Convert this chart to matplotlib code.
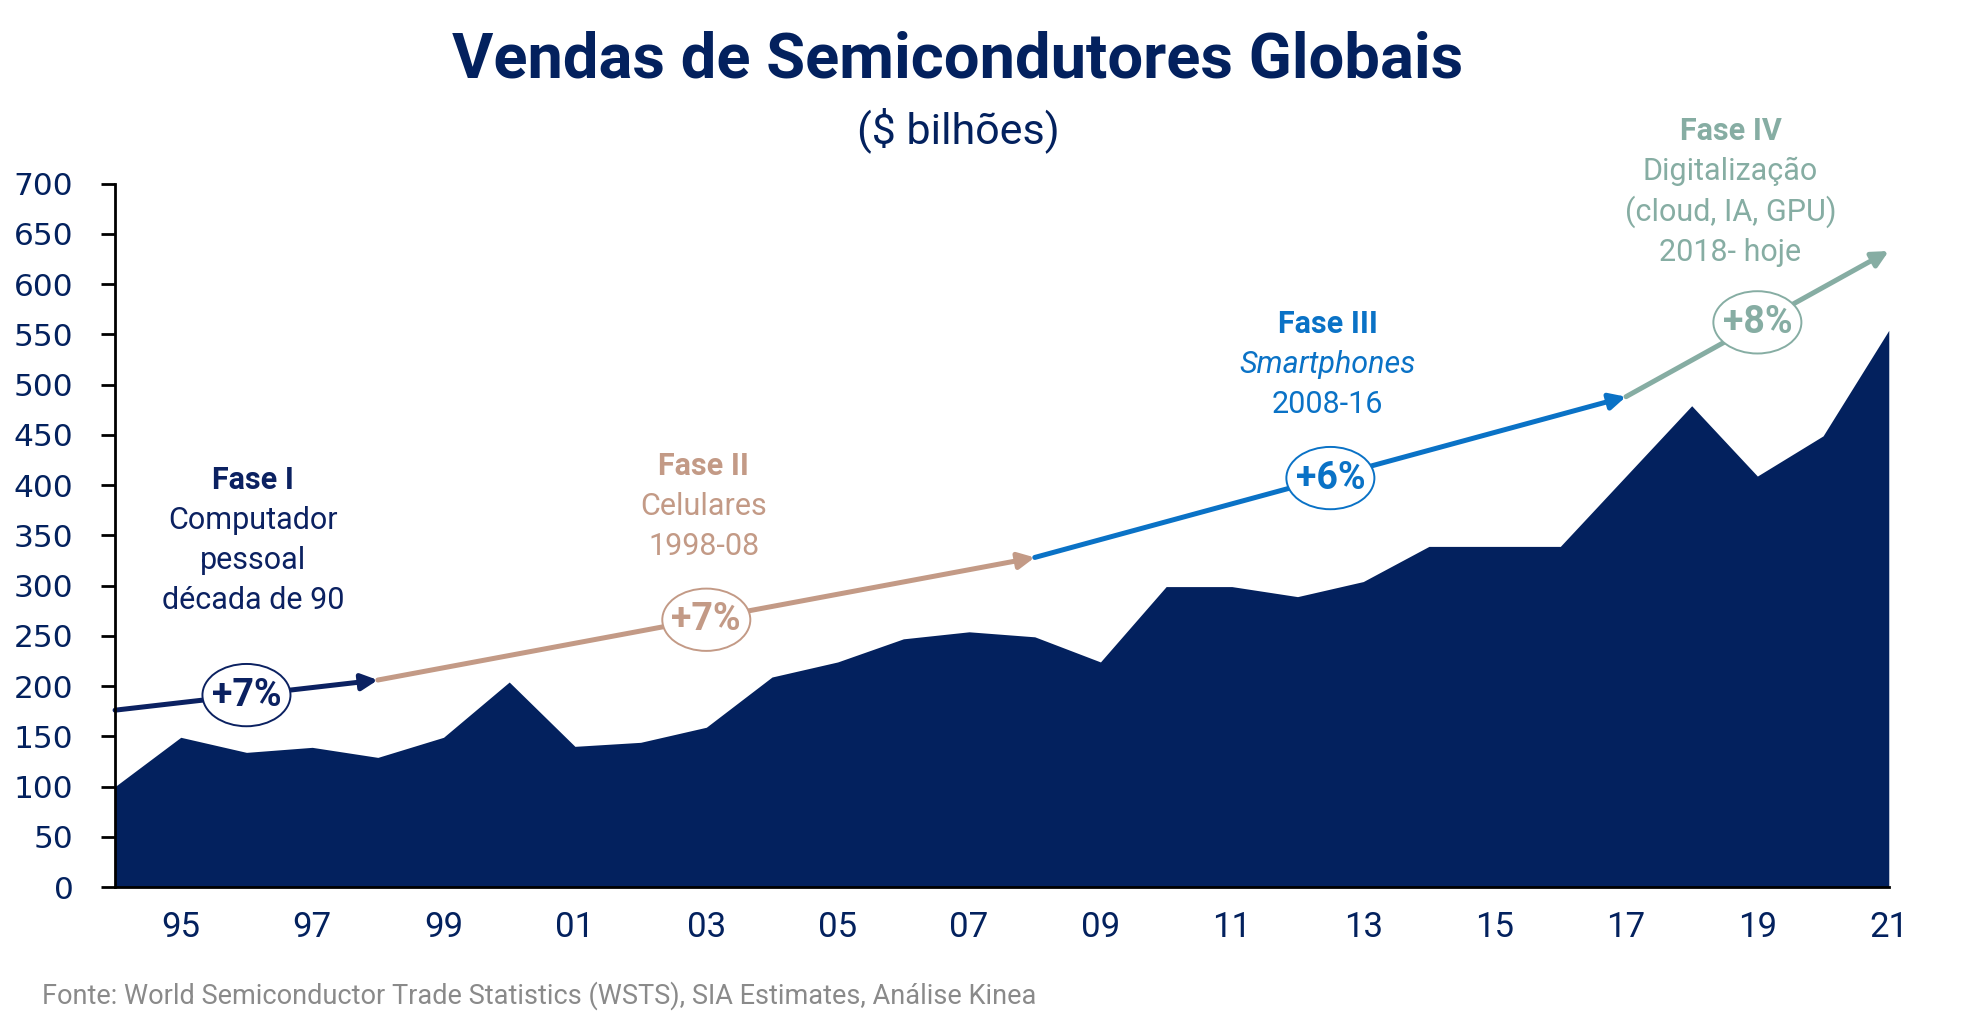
import matplotlib
matplotlib.use("Agg")
import matplotlib.pyplot as plt
from matplotlib.patches import Ellipse

years = list(range(1994, 2022))
sales = [100, 149, 134, 139, 129, 149, 204, 140, 144, 159, 209, 224, 247, 254,
         249, 224, 299, 299, 289, 304, 339, 339, 339, 409, 479, 409, 449, 554]
xtick_years = list(range(1995, 2022, 2))
xtick_labels = [f"{y % 100:02d}" for y in xtick_years]
yticks = list(range(0, 701, 50))

# phases: arrow start/end, growth label, ellipse center, text lines
phase_arrows = [((1994, 176), (1998, 206)),
                ((1998, 206), (2008, 328)),
                ((2008, 328), (2017, 488)),
                ((2017, 488), (2021, 633))]
phase_growth = ["+7%", "+7%", "+6%", "+8%"]
phase_badge = [(1996.0, 191), (2003.0, 266), (2012.5, 407), (2019.0, 562)]
phase_title = ["Fase I", "Fase II", "Fase III", "Fase IV"]
phase_lines = [["Computador", "pessoal", "década de 90"],
               ["Celulares", "1998-08"],
               ["Smartphones", "2008-16"],
               ["Digitalização", "(cloud, IA, GPU)", "2018- hoje"]]
phase_text_anchor = [(1996.1, 405), (2002.96, 419), (2012.46, 560), (2018.59, 752)]
phase_colors = ["#0b2161", "#c39a86", "#0a72c6", "#86ada3"]

navy = "#03215e"
FONT = "Roboto"

fig = plt.figure(figsize=(19.84, 10.32), dpi=100)
ax = fig.add_axes([0.058, 0.1405, 0.894, 0.6815])

ax.fill_between(years, sales, 0, color=navy, lw=0, zorder=1)
ax.set_xlim(1994, 2021)
ax.set_ylim(0, 700)

for s in ["top", "right"]:
    ax.spines[s].set_visible(False)
for s in ["left", "bottom"]:
    ax.spines[s].set_color("black")
    ax.spines[s].set_linewidth(2)
    ax.spines[s].set_zorder(5)

ax.set_yticks(yticks)
ax.set_yticklabels([str(v) for v in yticks], fontsize=22.5, color=navy,
                   family="DejaVu Sans")
ax.tick_params(axis="y", length=10, width=2, pad=20)
ax.set_xticks(xtick_years)
ax.set_xticklabels(xtick_labels, fontsize=25, color=navy, family=FONT)
ax.tick_params(axis="x", length=0, pad=17)

for i in range(4):
    (x0, y0), (x1, y1) = phase_arrows[i]
    c = phase_colors[i]
    ax.annotate("", xy=(x1, y1), xytext=(x0, y0),
                arrowprops=dict(arrowstyle="-|>", color=c, lw=3.6,
                                mutation_scale=24, shrinkA=0, shrinkB=0),
                annotation_clip=False, zorder=3)
    bx, by = phase_badge[i]
    e = Ellipse((bx, by), 1.34, 62, facecolor="white", edgecolor=c, lw=1.4,
                zorder=4)
    ax.add_patch(e)
    ax.text(bx, by, phase_growth[i], ha="center", va="center", fontsize=27,
            fontweight="bold", color=c, family=FONT, zorder=6)

    tx, ty = phase_text_anchor[i]
    ax.annotate(phase_title[i], xy=(tx, ty), xytext=(0, 0),
                textcoords="offset points", ha="center", va="center",
                fontsize=22, fontweight="bold", color=c, family=FONT,
                annotation_clip=False)
    for j, line in enumerate(phase_lines[i]):
        style = "italic" if line == "Smartphones" else "normal"
        ax.annotate(line, xy=(tx, ty), xytext=(0, -29 * (j + 1)),
                    textcoords="offset points", ha="center", va="center",
                    fontsize=22, color=c, family=FONT, style=style,
                    annotation_clip=False)

fig.text(0.4829, 1 - 60 / 1032, "Vendas de Semicondutores Globais",
         ha="center", va="center", fontsize=45.5, fontweight="bold",
         color=navy, family=FONT)
fig.text(0.4829, 1 - 130 / 1032, "($ bilhões)", ha="center", va="center",
         fontsize=31, color=navy, family=FONT)
fig.text(42 / 1984, 1 - 996 / 1032,
         "Fonte: World Semiconductor Trade Statistics (WSTS), SIA Estimates, Análise Kinea",
         ha="left", va="center", fontsize=19.5, color="#8a8a8a", family=FONT)

fig.savefig("out.png", dpi=100)
